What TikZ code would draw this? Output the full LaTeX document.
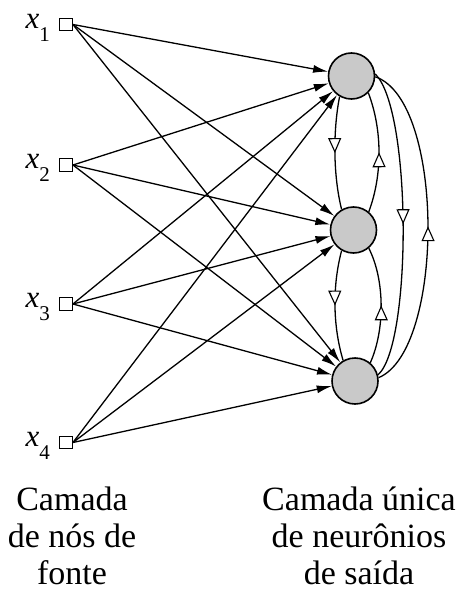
\documentclass[tikz,border=0pt]{standalone}
\usepackage{fontspec}
\setmainfont{Liberation Serif}
\usepackage{tikz}
\usetikzlibrary{positioning, arrows.meta, decorations.markings}

\newcommand{\invar}[1]{\textit{x}\raisebox{-0.42em}{\fontsize{21}{21}\selectfont #1}}

\begin{document}
\begin{tikzpicture}[
  x=1pt, y=-1pt,
  src/.style={draw, line width=1.4pt, fill=white, minimum size=12.5pt, inner sep=0pt},
  inlabel/.style={font=\fontsize{31}{31}\selectfont, inner sep=0pt},
  neuron/.style={circle, draw, line width=1.6pt, fill=black!21, minimum size=46pt, inner sep=0pt},
  arrow/.style={-{Latex[length=15pt,width=8pt]}, line width=1.3pt},
  fb/.style={line width=1.3pt, postaction={decorate}, decoration={markings,
    mark=at position 0.5 with {\arrow{Triangle[length=15pt,width=13pt,fill=white,line width=1.1pt]}}}},
  caption/.style={font=\fontsize{34}{37}\selectfont, align=center, inner sep=0pt, anchor=north},
]
  \useasboundingbox (0,0) rectangle (461,594);

  % Source nodes
  \node[src] (x1) at (66,24.5) {};
  \node[src] (x2) at (66,165) {};
  \node[src] (x3) at (66,304) {};
  \node[src] (x4) at (66,442.5) {};
  \foreach \i in {1,...,4}
    \node[inlabel, left=9pt of x\i, yshift=-3pt] (lx\i) {\invar{\i}};

  % Output neurons
  \node[neuron] (n1) at (351.5,76) {};
  \node[neuron] (n2) at (353.5,230) {};
  \node[neuron] (n3) at (355,381) {};

  % Feedforward connections
  \foreach \i in {1,...,4}
    \foreach \j in {1,2,3}
      \draw[arrow] (x\i.east) -- (n\j);

  % Feedback between neighbours
  \draw[fb] (n1.240) .. controls (333,130) and (333,175) .. (n2.120);
  \draw[fb] (n2.50) .. controls (382.5,175) and (382.5,130) .. (n1.315);
  \draw[fb] (n2.240) .. controls (332.5,285) and (332.5,325) .. (n3.120);
  \draw[fb] (n3.50) .. controls (385,330) and (385,280) .. (n2.310);

  % Feedback between first and last neuron
  \draw[fb] (n1.5) .. controls (412,110) and (412,345) .. (n3.15);
  \draw[fb] (n3.8) .. controls (445,350) and (445,100) .. (n1.-2);

  % Layer captions
  \node[caption] (capin) at (72,487) {Camada\\de nós de\\fonte};
  \node[caption] (capout) at (359,487) {Camada única\\de neurônios\\de saída};
\end{tikzpicture}
\end{document}
